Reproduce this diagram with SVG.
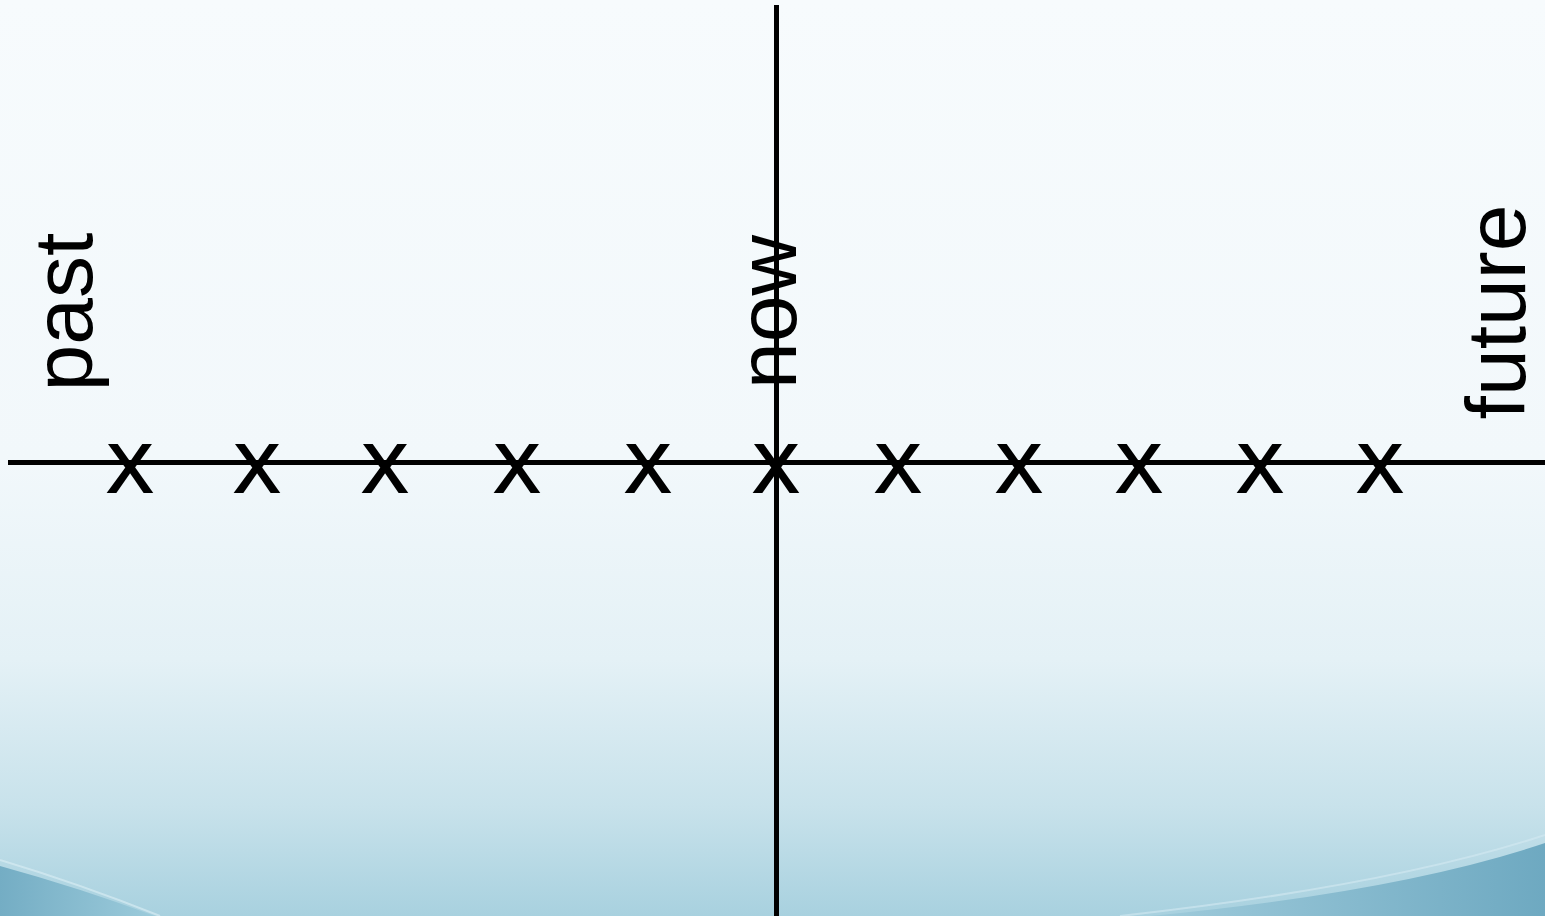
<svg xmlns="http://www.w3.org/2000/svg" width="1545" height="916" viewBox="0 0 1545 916">
  <defs>
    <linearGradient id="bg" x1="0" y1="0" x2="0" y2="1">
      <stop offset="0" stop-color="#f7fbfd"/>
      <stop offset="0.5" stop-color="#f2f8fb"/>
      <stop offset="0.72" stop-color="#e4f1f6"/>
      <stop offset="0.88" stop-color="#c8e2eb"/>
      <stop offset="1" stop-color="#a8d1df"/>
    </linearGradient>
    <linearGradient id="swL" x1="0" y1="0" x2="1" y2="0">
      <stop offset="0" stop-color="#74adc4"/>
      <stop offset="1" stop-color="#9ccbdb"/>
    </linearGradient>
    <linearGradient id="swR" x1="0" y1="0" x2="1" y2="0">
      <stop offset="0" stop-color="#9fcbdb"/>
      <stop offset="1" stop-color="#6ea9c1"/>
    </linearGradient>
    <style>
      .lbl { font-family: "Liberation Sans", Arial, sans-serif; font-size: 84px; fill: #000; text-anchor: middle; }
      .mark { font-family: "Liberation Sans", Arial, sans-serif; font-size: 68px; fill: #000; stroke: #000; stroke-width: 2.2; text-anchor: middle; }
      .axis { stroke: #000; stroke-width: 5; fill: none; }
    </style>
  </defs>

  <g id="background">
    <rect x="0" y="0" width="1545" height="916" fill="url(#bg)"/>
    <path d="M0,866 Q80,888 155,916 L0,916 Z" fill="url(#swL)"/>
    <path d="M0,860 Q80,884 160,916" fill="none" stroke="#d6ebf2" stroke-width="2" opacity="0.7"/>
    <path d="M1545,843 Q1400,892 1150,916 L1545,916 Z" fill="url(#swR)"/>
    <path d="M1545,835 Q1390,886 1120,916" fill="none" stroke="#d4e9f1" stroke-width="2" opacity="0.6"/>
  </g>

  <g id="connectors">
    <line class="axis" x1="8" y1="462.5" x2="1545" y2="462.5"/>
    <line class="axis" x1="776.5" y1="5" x2="776.5" y2="916"/>
  </g>

  <g id="label-past"><text class="lbl" transform="translate(92,312) rotate(-90)">past</text></g>
  <g id="label-now"><text class="lbl" transform="translate(796,312) rotate(-90)">now</text></g>
  <g id="label-future"><text class="lbl" transform="translate(1525,312) rotate(-90)">future</text></g>

  <g id="marks">
    <g id="mark-1"><text class="mark" x="130" y="492">X</text></g>
    <g id="mark-2"><text class="mark" x="257" y="492">X</text></g>
    <g id="mark-3"><text class="mark" x="385" y="492">X</text></g>
    <g id="mark-4"><text class="mark" x="517" y="492">X</text></g>
    <g id="mark-5"><text class="mark" x="648" y="492">X</text></g>
    <g id="mark-6"><text class="mark" x="776" y="492">X</text></g>
    <g id="mark-7"><text class="mark" x="898" y="492">X</text></g>
    <g id="mark-8"><text class="mark" x="1019" y="492">X</text></g>
    <g id="mark-9"><text class="mark" x="1139" y="492">X</text></g>
    <g id="mark-10"><text class="mark" x="1260" y="492">X</text></g>
    <g id="mark-11"><text class="mark" x="1380" y="492">X</text></g>
  </g>
</svg>
